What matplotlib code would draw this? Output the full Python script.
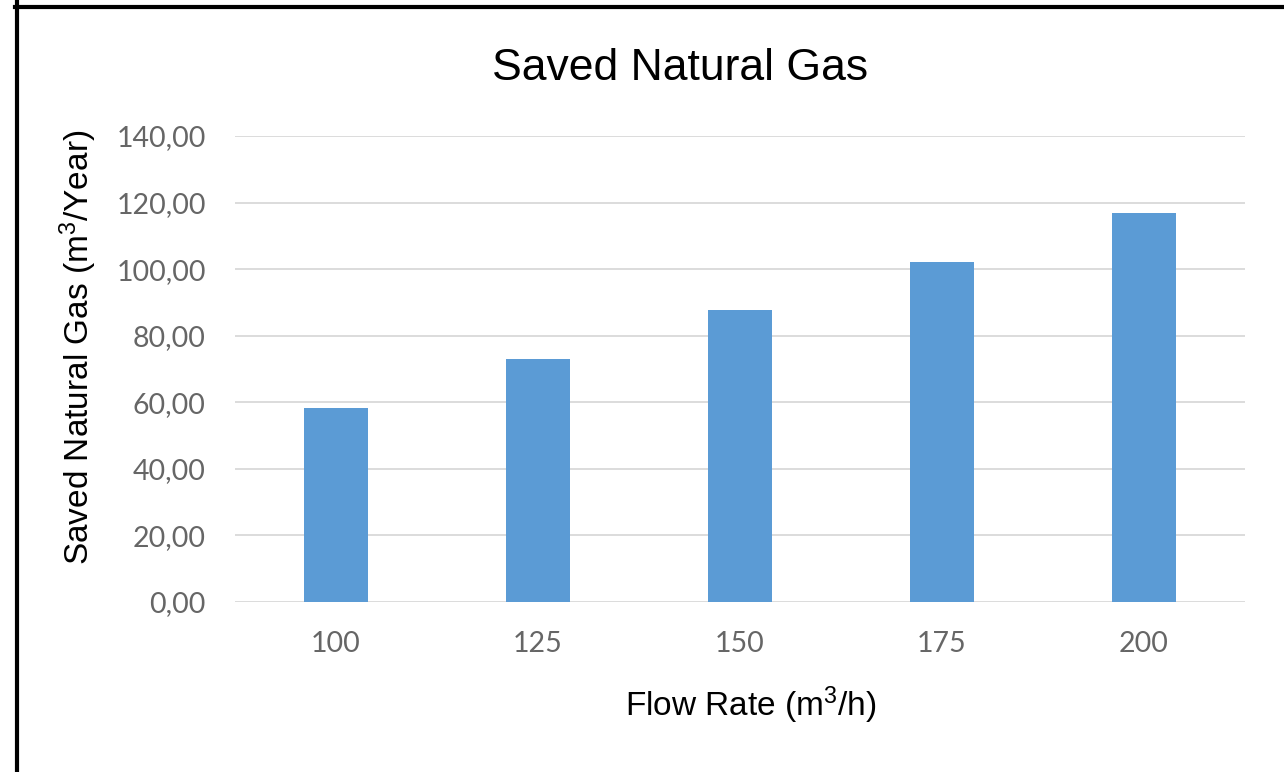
import matplotlib.pyplot as plt
from matplotlib.lines import Line2D

# Data
flow_rates = ['100', '125', '150', '175', '200']
saved_gas = [58.4, 73.0, 87.6, 102.2, 116.8]
y_ticks = [0, 20, 40, 60, 80, 100, 120, 140]

plt.rcParams['mathtext.fontset'] = 'custom'
plt.rcParams['mathtext.rm'] = 'Liberation Sans'
plt.rcParams['mathtext.it'] = 'Liberation Sans'

fig = plt.figure(figsize=(12.84, 7.72), dpi=100)
ax = fig.add_axes([235 / 1284, 1 - 602 / 772, 1010 / 1284, 466 / 772])

x = range(len(flow_rates))
ax.bar(x, saved_gas, width=0.317, color='#5B9BD5', zorder=3)

ax.set_xlim(-0.5, len(flow_rates) - 0.5)
ax.set_ylim(0, 140)
ax.set_yticks(y_ticks)
ax.set_yticklabels([f'{v:.2f}'.replace('.', ',') for v in y_ticks])
ax.set_xticks(list(x))
ax.set_xticklabels(flow_rates)

ax.grid(axis='y', color='#D9D9D9', linewidth=1.3, zorder=0)
for s in ['top', 'right', 'left', 'bottom']:
    ax.spines[s].set_visible(False)
ax.tick_params(length=0, labelsize=20.5, labelcolor='#666666')
ax.tick_params(axis='x', pad=21)
ax.tick_params(axis='y', pad=21)
for lbl in ax.get_xticklabels() + ax.get_yticklabels():
    lbl.set_fontfamily('Lato')

ax.set_xlabel('Flow Rate (m$^3$/h)', fontsize=24, fontfamily='Liberation Sans', va='center')
ax.xaxis.set_label_coords((751 - 235) / 1010, (602 - 705) / 466)
ax.set_ylabel('Saved Natural Gas (m$^3$/Year)', fontsize=24, fontfamily='Liberation Sans', va='center')
ax.yaxis.set_label_coords((78 - 235) / 1010, (602 - 347) / 466)

fig.text(680 / 1284, 1 - 68 / 772, 'Saved Natural Gas', fontsize=32,
         fontfamily='Liberation Sans', ha='center', va='center')

# black frame lines at top and left edge
fig.add_artist(Line2D([16.5 / 1284, 16.5 / 1284], [0, 1], color='black', linewidth=3, transform=fig.transFigure))
fig.add_artist(Line2D([15 / 1284, 1], [1 - 7 / 772, 1 - 7 / 772], color='black', linewidth=3, transform=fig.transFigure))

fig.savefig('out.png', dpi=100)
